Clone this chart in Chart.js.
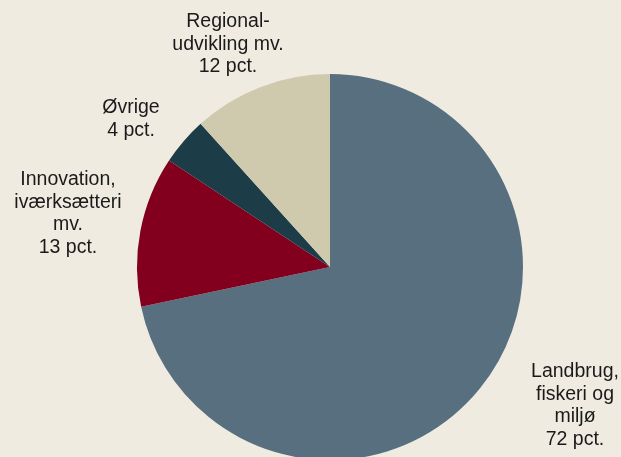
<!DOCTYPE html>
<html>
<head>
<meta charset="utf-8">
<script src="https://cdn.jsdelivr.net/npm/chart.js@4.4.0/dist/chart.umd.min.js"></script>
<style>
  html, body { margin: 0; padding: 0; background: #f0ebe0; overflow: hidden; }
  #wrap { width: 621px; height: 457px; overflow: hidden; }
  #box { width: 621px; height: 534px; }
</style>
</head>
<body>
<div id="wrap"><div id="box"><canvas id="myChart"></canvas></div></div>
<script>
// Kategorier og andele (læst af figuren), start kl. 12 og med uret
const categories = ['Landbrug, fiskeri og miljø', 'Innovation, iværksætteri mv.', 'Øvrige', 'Regional-udvikling mv.'];
const shares = [71.7, 12.6, 4.0, 11.7];
const pctLabels = [72, 13, 4, 12];
const labelLines = [
    ['Landbrug,', 'fiskeri og', 'miljø'],
    ['Innovation,', 'iværksætteri', 'mv.'],
    ['Øvrige'],
    ['Regional-', 'udvikling mv.']
];
const colors = ['#586f7f', '#82001e', '#1c3c48', '#cfc9ad'];

// placering af tekster (midte x, første grundlinje)
const labelPos = [
    { x: 575, y: 377 },
    { x: 68, y: 185 },
    { x: 131, y: 113 },
    { x: 228, y: 27 }
];

const outsideLabels = {
    id: 'outsideLabels',
    afterDraw(chart) {
        const ctx = chart.ctx;
        ctx.save();
        ctx.font = '19.5px "Liberation Sans", Arial, sans-serif';
        ctx.fillStyle = '#1a1a1a';
        ctx.textAlign = 'center';
        ctx.textBaseline = 'alphabetic';
        labelLines.forEach((lines, i) => {
            const all = lines.concat([pctLabels[i] + ' pct.']);
            all.forEach((t, j) => {
                ctx.fillText(t, labelPos[i].x, labelPos[i].y + j * 22.5);
            });
        });
        ctx.restore();
    }
};

const ctx = document.getElementById('myChart').getContext('2d');
new Chart(ctx, {
    type: 'pie',
    data: {
        labels: categories,
        datasets: [{
            data: shares,
            backgroundColor: colors,
            borderWidth: 0
        }]
    },
    options: {
        responsive: true,
        maintainAspectRatio: false,
        animation: false,
        layout: { padding: { top: 74, bottom: 74, left: 137, right: 98 } },
        plugins: {
            legend: { display: false },
            tooltip: { enabled: false }
        }
    },
    plugins: [outsideLabels]
});
</script>
</body>
</html>
